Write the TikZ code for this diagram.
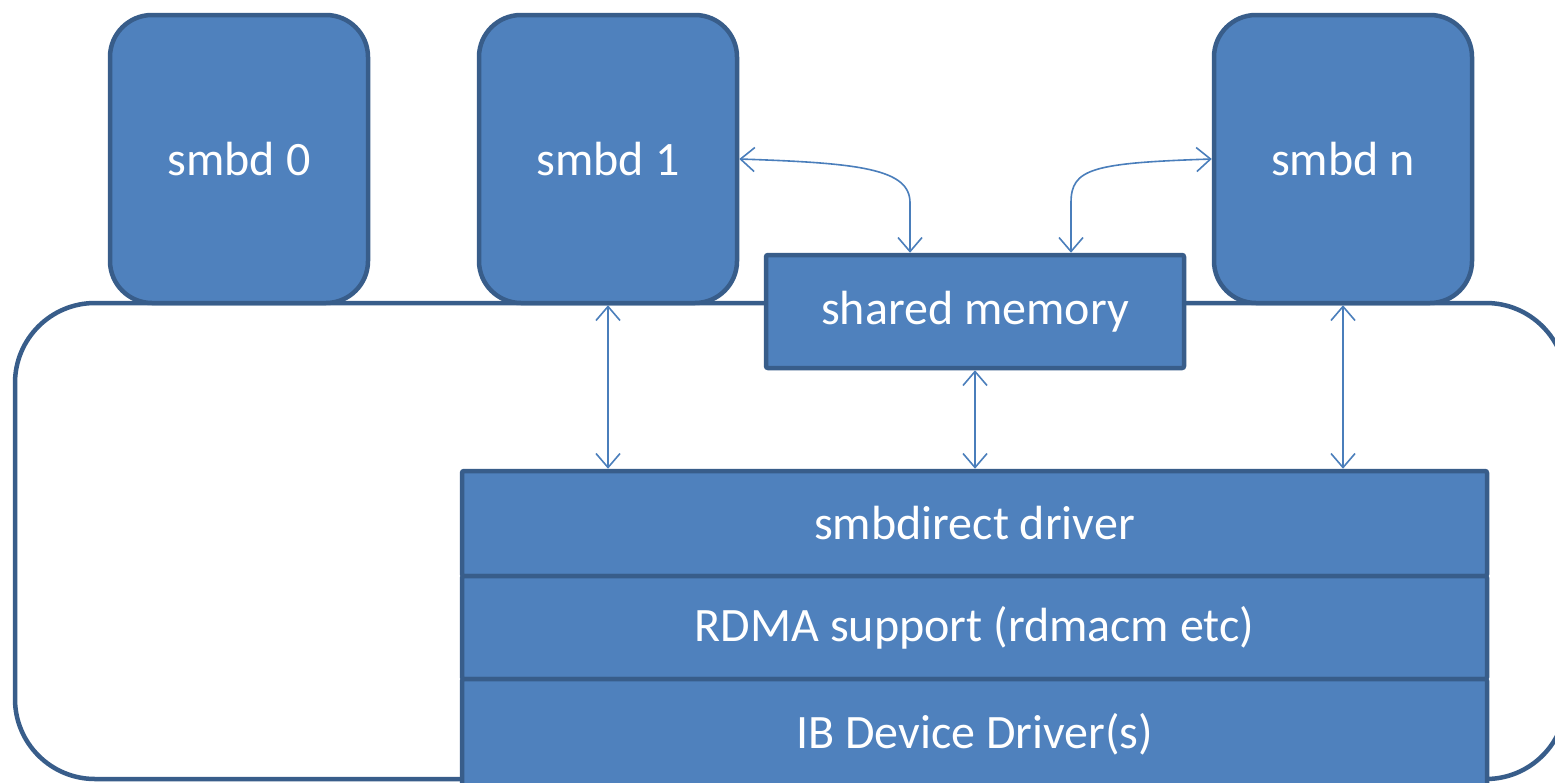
\documentclass[tikz,border=0pt]{standalone}
\usepackage{fontspec}
\setmainfont{Carlito}
\usetikzlibrary{arrows.meta,calc}
\definecolor{boxfill}{HTML}{4F81BD}
\definecolor{boxline}{HTML}{385D8A}
\definecolor{arrowc}{HTML}{4A7EBB}
\begin{document}
\begin{tikzpicture}[x=1pt,y=-1pt,
  lbl/.style={text=white,font=\fontsize{48}{56}\selectfont},
  procbox/.style={lbl,draw=boxline,fill=boxfill,line width=4.5pt,rounded corners=42pt,
    minimum width=258pt,minimum height=288pt,inner sep=0pt},
  sqbox/.style={lbl,draw=boxline,fill=boxfill,line width=4.5pt,rounded corners=2pt,inner sep=0pt},
  link/.style={draw=arrowc,line width=1.6pt,{Straight Barb[length=14pt,width=24pt]}-{Straight Barb[length=14pt,width=24pt]}}
]
\useasboundingbox (0,0) rectangle (1555,782);
\clip (0,0) rectangle (1555,782);
\fill[white] (0,0) rectangle (1555,782);
% kernel area
\draw[boxline,line width=4.5pt,rounded corners=80pt] (15,303) rectangle (1566,779);
% processes
\node[procbox] (s0) at (239,159) {smbd 0};
\node[procbox] (s1) at (608,159) {smbd 1};
\node[procbox] (sn) at (1343,159) {smbd n};
% shared memory
\node[sqbox,minimum width=418pt,minimum height=113pt] (shm) at (975,311.5) {shared memory};
% stack
\node[sqbox,minimum width=1025pt,minimum height=105pt] (drv) at (974.5,523.5) {smbdirect driver};
\node[sqbox,minimum width=1025pt,minimum height=103pt] (rdma) at (974.5,627.5) {RDMA support (rdmacm etc)};
\node[sqbox,minimum width=1025pt,minimum height=111pt] (ib) at (974.5,734.5) {IB Device Driver(s)};
% arrows
\draw[link] (s1.south) -- (s1.south |- drv.north);
\draw[link] (shm.south) -- (shm.south |- drv.north);
\draw[link] (sn.south) -- (sn.south |- drv.north);
\coordinate (c1) at ($(shm.north)+(-65,-50)$);
\coordinate (c2) at ($(shm.north)+(96,-50)$);
\draw[link] (s1.east) .. controls ($(s1.east)+(120,4)$) and ($(c1)+(0,-34)$) .. (c1) -- (c1 |- shm.north);
\draw[link] (sn.west) .. controls ($(sn.west)+(-120,4)$) and ($(c2)+(0,-34)$) .. (c2) -- (c2 |- shm.north);
\end{tikzpicture}
\end{document}
